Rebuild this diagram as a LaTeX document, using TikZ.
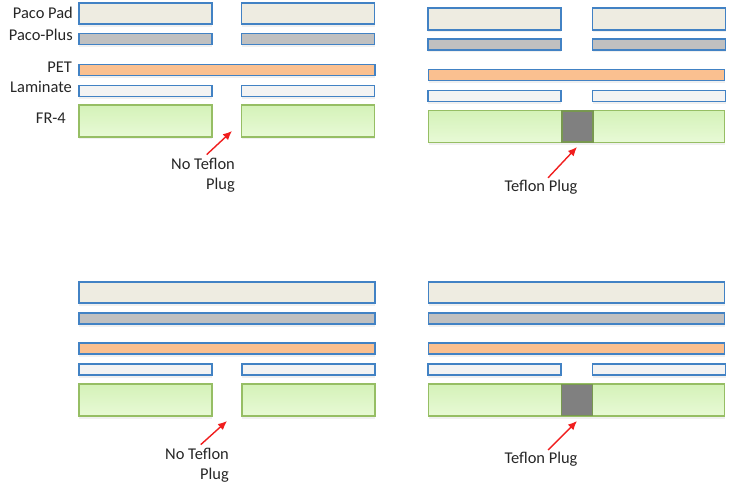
\documentclass[tikz,border=0pt]{standalone}
\usepackage{fontspec}
\setmainfont{Carlito}
\usetikzlibrary{arrows.meta,shadows}
\definecolor{edgeblue}{RGB}{66,130,196}
\definecolor{padfill}{RGB}{238,236,225}
\definecolor{plusfill}{RGB}{192,192,192}
\definecolor{petfill}{RGB}{250,192,144}
\definecolor{lamfill}{RGB}{243,243,243}
\definecolor{boardedge}{RGB}{150,190,100}
\definecolor{boardtop}{RGB}{212,242,184}
\definecolor{boardbot}{RGB}{232,250,214}
\definecolor{plugfill}{RGB}{128,128,128}
\definecolor{arrowred}{RGB}{240,30,30}

\begin{document}
\begin{tikzpicture}[x=1bp,y=-1bp,
layer/.style={draw=edgeblue,line width=1.6bp,inner sep=0pt,minimum height=11bp,
  drop shadow={opacity=0.12,shadow xshift=0bp,shadow yshift=-2.5bp}},
pad/.style={layer,fill=padfill,minimum height=21.5bp},
plus/.style={layer,fill=plusfill},
pet/.style={layer,fill=petfill,minimum width=296bp},
lam/.style={layer,fill=lamfill},
board/.style={layer,draw=boardedge,top color=boardtop,bottom color=boardbot,minimum height=32bp},
plug/.style={draw=boardedge!80!black,line width=1.2bp,fill=plugfill,inner sep=0pt,minimum width=31bp,minimum height=31bp},
half/.style={minimum width=133bp},
full/.style={minimum width=296bp},
tag/.style={font=\fontsize{16.5}{20}\selectfont,text=black!85,anchor=east,inner sep=0pt},
note/.style={font=\fontsize{16.5}{20}\selectfont,text=black!85,inner sep=0pt},
ptr/.style={-{Latex[length=9bp,width=8bp]},arrowred,line width=1.4bp}]
\useasboundingbox (0,0) rectangle (732,491);
% top left: split stack, no plug
\node[pad,half] (a-pad1) at (145.5,13.5) {};
\node[pad,half] (a-pad2) at (308,13.5) {};
\node[plus,half] (a-plus1) at (145.5,39) {};
\node[plus,half] (a-plus2) at (308,39) {};
\node[pet] (a-pet) at (227,70) {};
\node[lam,half] (a-lam1) at (145.5,91) {};
\node[lam,half] (a-lam2) at (308,91) {};
\node[board,half] (a-fr1) at (145.5,121) {};
\node[board,half] (a-fr2) at (308,121) {};
\node[tag] (t-pad) at (73,13) {Paco Pad};
\node[tag] (t-plus) at (73,35) {Paco-Plus};
\node[tag] (t-pet) at (72,67) {PET};
\node[tag] (t-lam) at (72,87) {Laminate};
\node[tag] (t-fr) at (66,118) {FR-4};
\node[note,align=right,anchor=north east] (a-note) at (235,158) {No Teflon\\Plug};
\coordinate (a-tip) at (232,131);
\draw[ptr,shorten <=5bp] (a-note.north) -- (a-tip);
% top right: split stack, with plug
\begin{scope}[shift={(349,5)}]
\node[pad,half] (b-pad1) at (145.5,14) {};
\node[pad,half] (b-pad2) at (310,14) {};
\node[plus,half] (b-plus1) at (145.5,39.5) {};
\node[plus,half] (b-plus2) at (310,39.5) {};
\node[pet] (b-pet) at (227.5,70) {};
\node[lam,half] (b-lam1) at (145.5,91) {};
\node[lam,half] (b-lam2) at (310,91) {};
\node[board,full] (b-fr) at (227.5,121.5) {};
\node[plug] (b-plug) at (228.5,121.5) {};
\node[note,anchor=north] (b-note) at (192,175) {Teflon Plug};
\coordinate (b-tip) at (228,142);
\draw[ptr,shorten <=3bp] ([xshift=5bp]b-note.north) -- (b-tip);
\end{scope}
% bottom left: full pads, no plug
\begin{scope}[shift={(0,279)}]
\node[pad,full] (c-pad) at (227,13.5) {};
\node[plus,full] (c-plus) at (227,39.5) {};
\node[pet] (c-pet) at (227,69.5) {};
\node[lam,half] (c-lam1) at (145.5,90.5) {};
\node[lam,half] (c-lam2) at (308.5,90.5) {};
\node[board,half] (c-fr1) at (145.5,121) {};
\node[board,half] (c-fr2) at (308.5,121) {};
\node[note,align=right,anchor=north east] (c-note) at (229,169) {No Teflon\\Plug};
\coordinate (c-tip) at (227,142);
\draw[ptr,shorten <=5bp] (c-note.north) -- (c-tip);
\end{scope}
% bottom right: full pads, with plug
\begin{scope}[shift={(349,279)}]
\node[pad,full] (d-pad) at (227.5,13.5) {};
\node[plus,full] (d-plus) at (227.5,39.5) {};
\node[pet] (d-pet) at (227.5,69.5) {};
\node[lam,half] (d-lam1) at (145.5,90.5) {};
\node[lam,half] (d-lam2) at (310,90.5) {};
\node[board,full] (d-fr) at (227.5,121) {};
\node[plug] (d-plug) at (228,121) {};
\node[note,anchor=north] (d-note) at (192,173) {Teflon Plug};
\coordinate (d-tip) at (228,142);
\draw[ptr,shorten <=3bp] ([xshift=5bp]d-note.north) -- (d-tip);
\end{scope}
\end{tikzpicture}
\end{document}
